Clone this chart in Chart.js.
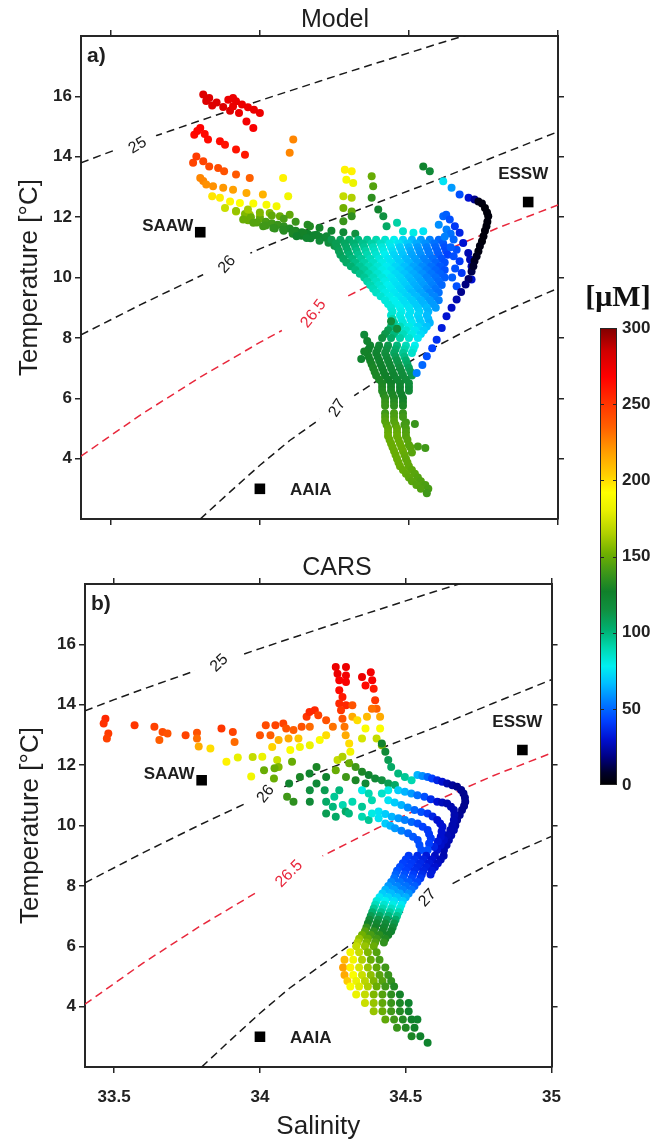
<!DOCTYPE html>
<html lang="en">
<head>
<meta charset="UTF-8" />
<title>Model vs CARS - T/S nitrate</title>
<script src="https://cdn.jsdelivr.net/npm/chart.js"></script>
<style>
  body { margin: 0; background: #fff; width: 654px; height: 1141px; position: relative; overflow: hidden; }
  canvas { position: absolute; }
</style>
</head>
<body>
<canvas id="chartA" width="575" height="540" style="left:0;top:0"></canvas>
<canvas id="chartB" width="575" height="596" style="left:0;top:545px"></canvas>
<canvas id="cbar" width="74" height="540" style="left:580px;top:270px"></canvas>

<script>
// ---- axes ----
const S_MIN = 33.4, S_MAX = 35;
const T_MIN = 2, T_MAX = 18;
const SAL_TICKS = [33.5, 34, 34.5, 35];
const TEMP_TICKS = [4, 6, 8, 10, 12, 14, 16];
const CBAR_TICKS = [0, 50, 100, 150, 200, 250, 300];

// ---- colormap (nitrate, uM) ----
const CMAP_VALUES = [0, 8, 18, 30, 42, 55, 67, 78, 90, 102, 115, 127, 140, 152, 165, 180, 192, 203, 218, 235, 252, 268, 285, 300];
const CMAP_COLORS = ['#000000', '#00002a', '#000080', '#0010d0', '#0040ff', '#0080ff', '#00c0ff', '#00f0f0',
  '#00d8b0', '#00b070', '#109040', '#10802a', '#409818', '#70b000', '#b0d000', '#e8f000', '#ffff00',
  '#ffd000', '#ffa000', '#ff6000', '#ff3000', '#ff0000', '#d00000', '#800000'];

// ---- isopycnals (salinity, temperature) ----
const ISO_NAMES = ['25', '26', '26.5', '27'];
const ISO_25 = [[33.4, 13.8], [33.5, 14.17], [33.6, 14.52], [33.7, 14.86], [33.8, 15.2], [33.9, 15.53], [34.0, 15.86],
  [34.1, 16.18], [34.2, 16.5], [34.3, 16.82], [34.4, 17.13], [34.5, 17.44], [34.6, 17.75], [34.7, 18.05]];
const ISO_26 = [[33.4, 8.1], [33.6, 9.1], [33.8, 10.05], [34.0, 10.95], [34.2, 11.75], [34.4, 12.5], [34.6, 13.25],
  [34.8, 14.05], [35.0, 14.83]];
const ISO_265 = [[33.4, 4.08], [33.6, 5.45], [33.8, 6.7], [34.0, 7.85], [34.2, 8.92], [34.4, 9.9], [34.6, 10.8],
  [34.8, 11.65], [35.0, 12.4]];
const ISO_27 = [[33.8, 2.0], [33.9, 2.9], [34.0, 3.78], [34.1, 4.6], [34.2, 5.3], [34.3, 5.98], [34.4, 6.62], [34.5, 7.2],
  [34.6, 7.76], [34.7, 8.28], [34.8, 8.78], [34.9, 9.22], [35.0, 9.64]];
const ISO_LINES = [ISO_25, ISO_26, ISO_265, ISO_27];
const ISO_COLORS = ['#1a1a1a', '#1a1a1a', '#e8283c', '#1a1a1a'];

// label spot on each isopycnal: [S, T]
const ISO_SPOT_A = [[33.59, 14.37], [33.89, 10.43], [34.18, 8.8], [34.26, 5.67]];
const ISO_SPOT_B = [[33.86, 15.38], [34.02, 11.04], [34.1, 8.4], [34.575, 7.6]];

// ---- water masses ----
const WM_NAMES = ['SAAW', 'ESSW', 'AAIA'];
const WM_S = [33.8, 34.9, 34.0];
const WM_T = [11.5, 12.5, 3.0];

// ---- Model: [S, T, NO3] ----
const MODEL_SURFACE = [
  [33.81, 16.06, 280], [33.83, 15.95, 280], [33.855, 15.8, 280], [33.877, 15.65, 280], [33.9, 15.52, 280], [33.82, 15.85, 280], [33.84, 15.7, 280],
  [33.894, 15.89, 275], [33.91, 15.95, 275], [33.92, 15.84, 275], [33.94, 15.73, 275], [33.96, 15.64, 275], [33.98, 15.56, 275], [34.0, 15.45, 275],
  [33.91, 15.67, 275], [33.93, 15.45, 275], [33.955, 15.17, 272], [33.978, 14.95, 270],
  [33.78, 14.73, 265], [33.80, 14.95, 268], [33.815, 14.75, 265], [33.826, 14.57, 265], [33.866, 14.51, 265], [33.883, 14.4, 262], [33.92, 14.24, 262], [33.95, 14.07, 260], [33.79, 14.85, 266],
  [33.776, 13.8, 245], [33.787, 14.01, 248], [33.81, 13.85, 245], [33.83, 13.68, 243], [33.86, 13.63, 242], [33.88, 13.52, 240], [33.92, 13.41, 238], [33.966, 13.3, 235],
  [33.8, 13.3, 225], [33.81, 13.2, 225], [33.82, 13.08, 222], [33.843, 13.02, 222], [33.877, 12.97, 220], [33.91, 12.91, 218], [33.955, 12.8, 215], [34.01, 12.75, 212],
  [33.84, 12.69, 198], [33.866, 12.64, 196], [33.9, 12.52, 194], [33.933, 12.47, 192], [33.978, 12.45, 190], [34.022, 12.41, 188], [34.056, 12.36, 186],
  [33.883, 12.3, 172], [33.92, 12.19, 168], [33.966, 12.08, 162], [34.0, 12.03, 158], [34.033, 12.14, 155], [34.067, 12.03, 150], [34.1, 12.08, 148],
  [34.112, 14.57, 225], [34.1, 14.13, 225], [34.078, 13.3, 195], [34.095, 12.69, 185],
  [34.285, 13.57, 195], [34.308, 13.52, 195], [34.29, 13.24, 188], [34.313, 13.13, 182], [34.28, 12.69, 170], [34.308, 12.64, 165],
  [34.28, 12.3, 152], [34.308, 12.19, 148], [34.28, 11.86, 138], [34.308, 12.03, 135],
  [34.375, 13.35, 150], [34.38, 13.02, 145], [34.375, 12.64, 135], [34.397, 12.25, 125], [34.414, 12.03, 115], [34.425, 11.7, 105],
  [34.46, 11.81, 92], [34.48, 11.53, 85], [34.515, 11.48, 80], [34.548, 11.53, 75],
  [34.548, 13.68, 125], [34.57, 13.52, 120]
];
const MODEL_THERMOCLINE = [
  [33.92, 12.2, 160], [33.95, 12.1, 155], [33.97, 12.0, 150], [34.0, 11.95, 148], [34.02, 11.85, 142], [34.04, 11.8, 140], [34.06, 11.75, 138],
  [34.08, 11.7, 135], [34.1, 11.62, 132], [34.12, 11.55, 130], [34.14, 11.5, 128], [34.16, 11.45, 126], [34.18, 11.4, 124], [34.2, 11.35, 122], [34.22, 11.32, 120],
  [33.96, 11.9, 150], [33.99, 11.82, 145], [34.02, 11.72, 140], [34.05, 11.62, 136], [34.08, 11.55, 133], [34.11, 11.45, 130], [34.14, 11.38, 127],
  [34.17, 11.3, 124], [34.2, 11.22, 120], [34.23, 11.15, 117], [34.25, 11.05, 114],
  [33.96, 12.25, 162], [34.0, 12.15, 155], [34.04, 12.05, 148], [34.08, 11.95, 142], [34.12, 11.85, 138], [34.16, 11.75, 133], [34.2, 11.65, 128],
  [34.24, 11.55, 124], [34.28, 11.5, 120], [34.32, 11.45, 115],
  [33.944, 11.92, 150], [33.978, 11.81, 145], [34.011, 11.7, 140], [34.045, 11.64, 136], [34.078, 11.59, 133], [34.11, 11.53, 130], [34.145, 11.48, 128],
  [34.168, 11.7, 132], [34.123, 11.37, 126], [34.157, 11.31, 124], [34.19, 11.42, 124], [34.224, 11.37, 120]
];
const MODEL_CORE = [
  [34.24, 11.25, 112], [34.27, 11.25, 108], [34.30, 11.25, 104], [34.33, 11.25, 100], [34.36, 11.25, 95], [34.39, 11.25, 90], [34.42, 11.25, 84],
  [34.45, 11.25, 78], [34.48, 11.25, 72], [34.51, 11.25, 66], [34.54, 11.25, 60], [34.57, 11.25, 55], [34.60, 11.25, 50],
  [34.255, 11.125, 110], [34.285, 11.125, 106], [34.315, 11.125, 102], [34.345, 11.125, 97], [34.375, 11.125, 92], [34.405, 11.125, 86], [34.435, 11.125, 80],
  [34.465, 11.125, 75], [34.495, 11.125, 69], [34.525, 11.125, 63], [34.555, 11.125, 58], [34.585, 11.125, 52], [34.615, 11.125, 47],
  [34.26, 11.0, 110], [34.29, 11.0, 105], [34.32, 11.0, 100], [34.35, 11.0, 95], [34.38, 11.0, 88], [34.41, 11.0, 82], [34.44, 11.0, 76],
  [34.47, 11.0, 70], [34.50, 11.0, 65], [34.53, 11.0, 60], [34.56, 11.0, 55], [34.59, 11.0, 50], [34.62, 11.0, 45],
  [34.265, 10.875, 109], [34.295, 10.875, 104], [34.325, 10.875, 98], [34.355, 10.875, 92], [34.385, 10.875, 86], [34.415, 10.875, 80], [34.445, 10.875, 74],
  [34.475, 10.875, 69], [34.505, 10.875, 63], [34.535, 10.875, 59], [34.565, 10.875, 54], [34.595, 10.875, 49], [34.625, 10.875, 44],
  [34.27, 10.75, 108], [34.30, 10.75, 102], [34.33, 10.75, 96], [34.36, 10.75, 90], [34.39, 10.75, 84], [34.42, 10.75, 78], [34.45, 10.75, 72],
  [34.48, 10.75, 68], [34.51, 10.75, 62], [34.54, 10.75, 58], [34.57, 10.75, 54], [34.60, 10.75, 48], [34.63, 10.75, 42],
  [34.28, 10.625, 106], [34.31, 10.625, 100], [34.34, 10.625, 94], [34.37, 10.625, 88], [34.40, 10.625, 82], [34.43, 10.625, 76], [34.46, 10.625, 71],
  [34.49, 10.625, 66], [34.52, 10.625, 61], [34.55, 10.625, 56], [34.58, 10.625, 52], [34.61, 10.625, 46],
  [34.29, 10.5, 105], [34.32, 10.5, 98], [34.35, 10.5, 92], [34.38, 10.5, 86], [34.41, 10.5, 80], [34.44, 10.5, 75], [34.47, 10.5, 70],
  [34.50, 10.5, 65], [34.53, 10.5, 60], [34.56, 10.5, 55], [34.59, 10.5, 50], [34.62, 10.5, 45],
  [34.305, 10.375, 102], [34.335, 10.375, 95], [34.365, 10.375, 89], [34.395, 10.375, 83], [34.425, 10.375, 77], [34.455, 10.375, 72], [34.485, 10.375, 67],
  [34.515, 10.375, 62], [34.545, 10.375, 57], [34.575, 10.375, 52], [34.605, 10.375, 47],
  [34.32, 10.25, 100], [34.35, 10.25, 94], [34.38, 10.25, 86], [34.41, 10.25, 80], [34.44, 10.25, 75], [34.47, 10.25, 70], [34.50, 10.25, 65],
  [34.53, 10.25, 60], [34.56, 10.25, 55], [34.59, 10.25, 50], [34.62, 10.25, 45],
  [34.335, 10.125, 97], [34.365, 10.125, 91], [34.395, 10.125, 84], [34.425, 10.125, 78], [34.455, 10.125, 73], [34.485, 10.125, 68], [34.515, 10.125, 63],
  [34.545, 10.125, 58], [34.575, 10.125, 53], [34.605, 10.125, 49],
  [34.35, 10.0, 95], [34.38, 10.0, 88], [34.41, 10.0, 82], [34.44, 10.0, 76], [34.47, 10.0, 72], [34.50, 10.0, 66], [34.53, 10.0, 62],
  [34.56, 10.0, 56], [34.59, 10.0, 52], [34.62, 10.0, 48],
  [34.36, 9.875, 92], [34.39, 9.875, 86], [34.42, 9.875, 80], [34.45, 9.875, 75], [34.48, 9.875, 71], [34.51, 9.875, 65], [34.54, 9.875, 61], [34.57, 9.875, 56], [34.60, 9.875, 51],
  [34.37, 9.75, 90], [34.40, 9.75, 84], [34.43, 9.75, 78], [34.46, 9.75, 74], [34.49, 9.75, 70], [34.52, 9.75, 64], [34.55, 9.75, 60], [34.58, 9.75, 55], [34.61, 9.75, 50],
  [34.38, 9.625, 88], [34.41, 9.625, 82], [34.44, 9.625, 77], [34.47, 9.625, 73], [34.50, 9.625, 68], [34.53, 9.625, 63], [34.56, 9.625, 58], [34.59, 9.625, 53],
  [34.39, 9.5, 86], [34.42, 9.5, 80], [34.45, 9.5, 76], [34.48, 9.5, 72], [34.51, 9.5, 66], [34.54, 9.5, 62], [34.57, 9.5, 56], [34.60, 9.5, 52],
  [34.405, 9.375, 84], [34.435, 9.375, 79], [34.465, 9.375, 75], [34.495, 9.375, 71], [34.525, 9.375, 66], [34.555, 9.375, 61], [34.585, 9.375, 56],
  [34.42, 9.25, 82], [34.45, 9.25, 78], [34.48, 9.25, 74], [34.51, 9.25, 70], [34.54, 9.25, 65], [34.57, 9.25, 60], [34.60, 9.25, 55],
  [34.43, 9.125, 82], [34.46, 9.125, 78], [34.49, 9.125, 74], [34.52, 9.125, 70], [34.55, 9.125, 65], [34.58, 9.125, 60],
  [34.44, 9.0, 82], [34.47, 9.0, 78], [34.50, 9.0, 75], [34.53, 9.0, 70], [34.56, 9.0, 66], [34.59, 9.0, 60],
  [34.445, 8.875, 83], [34.475, 8.875, 79], [34.505, 8.875, 75], [34.535, 8.875, 71], [34.565, 8.875, 65],
  [34.44, 8.75, 84], [34.47, 8.75, 80], [34.50, 8.75, 75], [34.53, 8.75, 72], [34.56, 8.75, 66],
  [34.445, 8.625, 90], [34.475, 8.625, 81], [34.505, 8.625, 75], [34.535, 8.625, 71], [34.565, 8.625, 66],
  [34.45, 8.5, 95], [34.48, 8.5, 82], [34.51, 8.5, 76], [34.54, 8.5, 70], [34.57, 8.5, 65],
  [34.44, 8.375, 102], [34.47, 8.375, 88], [34.50, 8.375, 80], [34.53, 8.375, 73], [34.56, 8.375, 68],
  [34.43, 8.25, 110], [34.46, 8.25, 95], [34.49, 8.25, 84], [34.52, 8.25, 76], [34.55, 8.25, 70],
  [34.42, 8.125, 112], [34.45, 8.125, 100], [34.48, 8.125, 88], [34.51, 8.125, 80], [34.54, 8.125, 73],
  [34.41, 8.0, 115], [34.44, 8.0, 105], [34.47, 8.0, 92], [34.50, 8.0, 84], [34.53, 8.0, 76]
];
const MODEL_DEEP = [
  [34.37, 7.75, 125], [34.40, 7.75, 120], [34.43, 7.75, 112], [34.46, 7.75, 100], [34.49, 7.75, 88], [34.52, 7.75, 78],
  [34.365, 7.625, 126], [34.395, 7.625, 122], [34.425, 7.625, 114], [34.455, 7.625, 103], [34.485, 7.625, 91], [34.515, 7.625, 81],
  [34.36, 7.5, 128], [34.39, 7.5, 124], [34.42, 7.5, 116], [34.45, 7.5, 106], [34.48, 7.5, 95], [34.51, 7.5, 85],
  [34.365, 7.375, 128], [34.395, 7.375, 125], [34.425, 7.375, 118], [34.455, 7.375, 109], [34.485, 7.375, 98],
  [34.37, 7.25, 128], [34.40, 7.25, 125], [34.43, 7.25, 120], [34.46, 7.25, 112], [34.49, 7.25, 102],
  [34.375, 7.125, 129], [34.405, 7.125, 126], [34.435, 7.125, 121], [34.465, 7.125, 113], [34.495, 7.125, 105],
  [34.38, 7.0, 130], [34.41, 7.0, 126], [34.44, 7.0, 122], [34.47, 7.0, 115], [34.50, 7.0, 108],
  [34.385, 6.875, 130], [34.415, 6.875, 127], [34.445, 6.875, 122], [34.475, 6.875, 117], [34.505, 6.875, 110],
  [34.39, 6.75, 130], [34.42, 6.75, 127], [34.45, 6.75, 123], [34.48, 6.75, 118], [34.51, 6.75, 112],
  [34.40, 6.625, 130], [34.43, 6.625, 127], [34.46, 6.625, 122], [34.49, 6.625, 118],
  [34.41, 6.5, 130], [34.44, 6.5, 127], [34.47, 6.5, 122], [34.50, 6.5, 118],
  [34.41, 6.375, 131], [34.44, 6.375, 128], [34.47, 6.375, 124], [34.50, 6.375, 119],
  [34.41, 6.25, 132], [34.44, 6.25, 129], [34.47, 6.25, 125], [34.50, 6.25, 120],
  [34.415, 6.125, 133], [34.445, 6.125, 130], [34.475, 6.125, 126],
  [34.42, 6.0, 135], [34.45, 6.0, 131], [34.48, 6.0, 127],
  [34.42, 5.875, 137], [34.45, 5.875, 133], [34.48, 5.875, 128],
  [34.42, 5.75, 138], [34.45, 5.75, 135], [34.48, 5.75, 130],
  [34.35, 8.1, 120], [34.36, 7.9, 125], [34.34, 7.3, 125], [34.35, 7.55, 128], [34.44, 8.55, 118], [34.46, 8.3, 118],
  [34.42, 5.5, 140], [34.45, 5.5, 142], [34.48, 5.5, 138],
  [34.42, 5.375, 143], [34.45, 5.375, 143], [34.48, 5.375, 140],
  [34.42, 5.25, 145], [34.45, 5.25, 145], [34.49, 5.2, 140], [34.52, 5.15, 138],
  [34.425, 5.125, 146], [34.455, 5.125, 146], [34.485, 5.125, 141],
  [34.43, 5.0, 148], [34.46, 5.0, 148], [34.49, 5.0, 142],
  [34.43, 4.875, 149], [34.46, 4.875, 149], [34.49, 4.875, 144],
  [34.43, 4.75, 150], [34.46, 4.75, 150], [34.49, 4.75, 145],
  [34.435, 4.625, 150], [34.465, 4.625, 150], [34.495, 4.625, 146],
  [34.44, 4.5, 150], [34.47, 4.5, 150], [34.50, 4.45, 146], [34.53, 4.4, 142], [34.555, 4.35, 140],
  [34.445, 4.375, 150], [34.475, 4.375, 150], [34.505, 4.375, 146],
  [34.45, 4.25, 150], [34.48, 4.25, 150], [34.51, 4.2, 146],
  [34.455, 4.125, 150], [34.485, 4.125, 149],
  [34.46, 4.0, 150], [34.49, 4.0, 148],
  [34.465, 3.875, 150], [34.495, 3.875, 148],
  [34.47, 3.75, 150], [34.50, 3.75, 148],
  [34.48, 3.625, 149], [34.51, 3.625, 147],
  [34.49, 3.5, 148], [34.52, 3.5, 146],
  [34.50, 3.375, 147], [34.53, 3.375, 145],
  [34.51, 3.25, 146], [34.54, 3.25, 144],
  [34.525, 3.125, 145], [34.555, 3.125, 143],
  [34.54, 3.0, 144], [34.565, 3.0, 142],
  [34.56, 2.85, 140]
];
const MODEL_EAST = [
  [34.615, 13.19, 75], [34.643, 12.97, 60], [34.67, 12.75, 45], [34.7, 12.64, 30], [34.72, 12.58, 20],
  [34.615, 12.03, 50], [34.625, 12.08, 48], [34.637, 11.92, 45], [34.654, 11.7, 40], [34.67, 11.48, 35], [34.682, 11.14, 30],
  [34.699, 10.81, 25], [34.705, 10.6, 25], [34.71, 10.37, 25], [34.71, 9.93, 30],
  [34.626, 11.59, 55], [34.64, 11.45, 52], [34.65, 11.26, 50], [34.66, 10.92, 45], [34.67, 10.54, 40], [34.677, 10.15, 40], [34.66, 9.71, 45],
  [34.6, 11.75, 58], [34.62, 11.35, 55], [34.64, 11.0, 48], [34.65, 10.7, 45], [34.655, 10.3, 45], [34.645, 10.0, 48],
  [34.71, 10.2, 12], [34.7, 9.95, 15], [34.69, 9.77, 18], [34.675, 9.52, 20], [34.66, 9.27, 25], [34.643, 9.0, 28], [34.626, 8.72, 30],
  [34.61, 8.33, 33], [34.593, 7.94, 38], [34.578, 7.66, 42], [34.56, 7.39, 45], [34.545, 7.1, 50], [34.526, 6.84, 55],
  [34.733, 12.52, 5], [34.745, 12.45, 3], [34.755, 12.3, 2], [34.762, 12.15, 2], [34.766, 12.03, 2], [34.763, 11.85, 2], [34.76, 11.7, 2],
  [34.755, 11.55, 2], [34.75, 11.37, 2], [34.745, 11.2, 2], [34.738, 11.04, 3], [34.733, 10.87, 3], [34.727, 10.7, 5], [34.72, 10.55, 6], [34.716, 10.37, 8]
];

// ---- CARS: [S, T, NO3] ----
const CARS_SURFACE = [
  [33.47, 13.54, 255], [33.464, 13.38, 252], [33.48, 13.05, 248], [33.475, 12.88, 246],
  [33.57, 13.32, 250], [33.638, 13.27, 246], [33.666, 13.1, 242], [33.655, 12.83, 236], [33.683, 13.05, 240],
  [33.745, 12.99, 245], [33.784, 13.07, 240], [33.784, 12.88, 232], [33.79, 12.62, 215], [33.83, 12.55, 200],
  [33.868, 13.21, 250], [33.907, 13.1, 245], [33.913, 12.77, 232], [33.885, 12.11, 195], [33.924, 12.25, 180],
  [33.97, 11.62, 185], [33.975, 12.27, 170], [34.0, 12.99, 240], [34.02, 13.32, 242], [34.036, 12.99, 236],
  [34.053, 13.32, 245], [34.08, 13.38, 246], [34.09, 13.21, 240], [34.115, 13.16, 236], [34.143, 13.27, 240],
  [34.16, 13.6, 250], [34.17, 13.76, 255], [34.188, 13.82, 255], [34.2, 13.65, 246], [34.227, 13.49, 240],
  [34.042, 12.6, 202], [34.064, 12.83, 212], [34.098, 12.88, 215], [34.132, 12.88, 206], [34.171, 13.27, 232],
  [34.008, 12.28, 182], [34.059, 12.17, 172], [34.104, 12.5, 190], [34.137, 12.6, 186], [34.171, 12.66, 182],
  [34.205, 12.83, 190], [34.227, 12.99, 200], [34.25, 13.27, 230]
];
const CARS_COLUMN = [
  [34.26, 15.25, 275], [34.266, 15.03, 275], [34.272, 14.81, 270], [34.295, 15.25, 275], [34.295, 14.97, 272], [34.295, 14.75, 270],
  [34.272, 14.48, 265], [34.283, 14.26, 260], [34.272, 14.04, 255], [34.295, 13.98, 255], [34.278, 13.82, 250], [34.283, 13.54, 240],
  [34.29, 13.27, 230], [34.294, 12.99, 215], [34.306, 12.72, 200], [34.31, 12.44, 185],
  [34.35, 14.92, 275], [34.38, 15.08, 272], [34.385, 14.81, 270], [34.362, 14.64, 265], [34.39, 14.53, 260], [34.395, 14.15, 250],
  [34.4, 13.87, 235], [34.412, 13.6, 215], [34.412, 13.21, 190], [34.4, 12.88, 170], [34.418, 12.66, 155],
  [34.317, 13.98, 240], [34.317, 13.6, 215], [34.334, 13.49, 200], [34.367, 13.6, 210], [34.362, 13.21, 190], [34.35, 12.88, 175], [34.384, 13.87, 230]
];
const CARS_MID = [
  [34.266, 12.17, 170], [34.283, 12.28, 165], [34.306, 12.06, 150], [34.328, 11.94, 140], [34.35, 11.78, 130], [34.373, 11.67, 125],
  [34.395, 11.56, 120], [34.418, 11.5, 115], [34.44, 11.39, 110], [34.463, 11.34, 105], [34.26, 11.83, 150], [34.295, 11.61, 140],
  [34.328, 11.5, 130], [34.362, 11.39, 120],
  [34.43, 12.44, 120], [34.44, 12.17, 110], [34.45, 11.94, 105], [34.474, 11.72, 100], [34.497, 11.61, 95], [34.52, 11.5, 90], [34.418, 12.72, 125],
  [34.014, 11.83, 150], [34.048, 11.56, 150], [34.064, 11.94, 155], [34.11, 12.11, 150], [34.1, 11.39, 125], [34.137, 11.61, 130],
  [34.17, 11.72, 125], [34.194, 11.94, 130], [34.093, 10.95, 140], [34.115, 10.79, 135], [34.171, 10.79, 120], [34.171, 11.17, 115],
  [34.194, 11.39, 120], [34.227, 11.61, 125], [34.222, 11.17, 110], [34.227, 10.79, 105], [34.272, 11.17, 100], [34.255, 10.95, 95],
  [34.284, 10.68, 90], [34.294, 10.46, 105], [34.317, 10.79, 90], [34.35, 11.17, 80],
  [34.44, 11.17, 80], [34.384, 10.84, 90], [34.35, 10.62, 95], [34.373, 11.06, 90], [34.418, 11.06, 85],
  [34.227, 10.4, 110], [34.26, 10.29, 105], [34.305, 10.4, 100], [34.35, 10.29, 90], [34.373, 10.18, 95], [34.25, 10.62, 100],
  [34.05, 11.9, 150]
];
const CARS_BLUE = [
  [34.54, 11.67, 65], [34.557, 11.64, 58], [34.575, 11.61, 50], [34.59, 11.56, 42], [34.608, 11.5, 35], [34.625, 11.45, 30], [34.642, 11.39, 25],
  [34.66, 11.33, 22], [34.676, 11.28, 20], [34.69, 11.18, 20], [34.698, 11.06, 20], [34.703, 10.92, 20], [34.704, 10.79, 20], [34.7, 10.65, 20],
  [34.693, 10.51, 20], [34.685, 10.35, 21], [34.676, 10.18, 22], [34.67, 10.0, 23], [34.665, 9.85, 25], [34.656, 9.68, 25], [34.648, 9.52, 25],
  [34.64, 9.35, 25], [34.631, 9.19, 25],
  [34.474, 11.17, 70], [34.497, 11.12, 65], [34.519, 11.06, 60], [34.54, 11.0, 52], [34.564, 10.95, 45], [34.586, 10.87, 37], [34.608, 10.79, 30],
  [34.625, 10.76, 27], [34.642, 10.73, 25], [34.655, 10.62, 25], [34.665, 10.51, 25], [34.667, 10.35, 25], [34.665, 10.18, 25], [34.66, 10.0, 25],
  [34.653, 9.85, 25], [34.642, 9.68, 26], [34.631, 9.52, 28], [34.62, 9.35, 29], [34.608, 9.19, 30],
  [34.44, 10.84, 75], [34.462, 10.76, 70], [34.485, 10.68, 65], [34.507, 10.6, 58], [34.53, 10.51, 50], [34.553, 10.45, 45], [34.575, 10.4, 40],
  [34.592, 10.3, 35], [34.608, 10.18, 30], [34.618, 10.07, 30], [34.626, 9.96, 30], [34.623, 9.8, 30], [34.62, 9.63, 30], [34.61, 9.47, 32], [34.597, 9.3, 35],
  [34.407, 10.46, 75], [34.43, 10.38, 70], [34.452, 10.29, 65], [34.475, 10.24, 60], [34.497, 10.18, 55], [34.52, 10.12, 50], [34.541, 10.07, 45],
  [34.558, 9.96, 42], [34.575, 9.85, 40], [34.58, 9.72, 40], [34.586, 9.58, 40], [34.58, 9.4, 42], [34.575, 9.19, 45],
  [34.384, 10.4, 80], [34.407, 10.24, 75], [34.43, 10.07, 70], [34.447, 9.99, 65], [34.463, 9.91, 60], [34.485, 9.83, 55], [34.508, 9.74, 50],
  [34.525, 9.63, 47], [34.541, 9.52, 45], [34.547, 9.35, 45], [34.553, 9.19, 45]
];
const CARS_DEEP = [
  [34.51, 9.0, 40], [34.54, 9.0, 36], [34.57, 9.0, 32], [34.60, 9.0, 28], [34.63, 9.0, 25],
  [34.50, 8.875, 41], [34.53, 8.875, 38], [34.56, 8.875, 34], [34.59, 8.875, 30], [34.62, 8.875, 26],
  [34.49, 8.75, 42], [34.52, 8.75, 40], [34.55, 8.75, 36], [34.58, 8.75, 32], [34.61, 8.75, 28],
  [34.48, 8.625, 44], [34.51, 8.625, 41], [34.54, 8.625, 37], [34.57, 8.625, 34], [34.60, 8.625, 30],
  [34.47, 8.5, 46], [34.50, 8.5, 42], [34.53, 8.5, 38], [34.56, 8.5, 35], [34.59, 8.5, 32],
  [34.465, 8.375, 49], [34.495, 8.375, 45], [34.525, 8.375, 41], [34.555, 8.375, 37], [34.585, 8.375, 33],
  [34.46, 8.25, 52], [34.49, 8.25, 48], [34.52, 8.25, 44], [34.55, 8.25, 40],
  [34.45, 8.125, 56], [34.48, 8.125, 52], [34.51, 8.125, 48], [34.54, 8.125, 44],
  [34.44, 8.0, 60], [34.47, 8.0, 56], [34.50, 8.0, 52], [34.53, 8.0, 48],
  [34.43, 7.875, 65], [34.46, 7.875, 61], [34.49, 7.875, 55], [34.52, 7.875, 52],
  [34.42, 7.75, 70], [34.45, 7.75, 66], [34.48, 7.75, 62], [34.51, 7.75, 58],
  [34.41, 7.625, 76], [34.44, 7.625, 72], [34.47, 7.625, 68], [34.50, 7.625, 64],
  [34.40, 7.5, 82], [34.43, 7.5, 78], [34.46, 7.5, 74], [34.49, 7.5, 70],
  [34.395, 7.375, 88], [34.425, 7.375, 84], [34.455, 7.375, 80], [34.485, 7.375, 76],
  [34.39, 7.25, 95], [34.42, 7.25, 90], [34.45, 7.25, 86], [34.48, 7.25, 82],
  [34.385, 7.125, 102], [34.415, 7.125, 97], [34.445, 7.125, 93], [34.475, 7.125, 89],
  [34.38, 7.0, 110], [34.41, 7.0, 105], [34.44, 7.0, 100], [34.47, 7.0, 96],
  [34.375, 6.875, 118], [34.405, 6.875, 113], [34.435, 6.875, 109], [34.465, 6.875, 104],
  [34.37, 6.75, 128], [34.40, 6.75, 122], [34.43, 6.75, 118], [34.46, 6.75, 112],
  [34.365, 6.625, 137], [34.395, 6.625, 128], [34.425, 6.625, 123], [34.455, 6.625, 118],
  [34.36, 6.5, 145], [34.39, 6.5, 135], [34.42, 6.5, 128], [34.45, 6.5, 124],
  [34.35, 6.375, 152], [34.38, 6.375, 142], [34.41, 6.375, 134], [34.44, 6.375, 128],
  [34.34, 6.25, 160], [34.37, 6.25, 150], [34.40, 6.25, 140], [34.43, 6.25, 132],
  [34.335, 6.125, 165], [34.365, 6.125, 155], [34.395, 6.125, 145], [34.425, 6.125, 136],
  [34.33, 6.0, 170], [34.36, 6.0, 160], [34.39, 6.0, 150],
  [34.31, 5.8, 185], [34.34, 5.8, 170], [34.37, 5.8, 155], [34.40, 5.8, 145],
  [34.29, 5.55, 210], [34.32, 5.55, 185], [34.35, 5.55, 165], [34.38, 5.55, 150], [34.41, 5.55, 142],
  [34.285, 5.3, 218], [34.31, 5.3, 195], [34.34, 5.3, 175], [34.37, 5.3, 160], [34.40, 5.3, 148], [34.43, 5.3, 140],
  [34.29, 5.05, 215], [34.32, 5.05, 190], [34.35, 5.05, 172], [34.38, 5.05, 158], [34.41, 5.05, 146], [34.44, 5.05, 138],
  [34.30, 4.85, 205], [34.33, 4.85, 182], [34.36, 4.85, 168], [34.39, 4.85, 155], [34.42, 4.85, 145], [34.45, 4.85, 136],
  [34.31, 4.67, 190], [34.34, 4.67, 178], [34.37, 4.67, 165], [34.40, 4.67, 150], [34.43, 4.67, 140], [34.46, 4.67, 132],
  [34.33, 4.4, 182], [34.36, 4.4, 170], [34.39, 4.4, 155], [34.42, 4.4, 145], [34.45, 4.4, 135], [34.48, 4.4, 128],
  [34.36, 4.12, 172], [34.39, 4.12, 160], [34.42, 4.12, 148], [34.45, 4.12, 138], [34.48, 4.12, 130], [34.51, 4.12, 125],
  [34.39, 3.85, 160], [34.42, 3.85, 150], [34.45, 3.85, 140], [34.48, 3.85, 132], [34.51, 3.85, 126],
  [34.43, 3.57, 148], [34.46, 3.57, 140], [34.49, 3.57, 132], [34.52, 3.57, 127], [34.54, 3.57, 125],
  [34.47, 3.3, 138], [34.50, 3.3, 132], [34.53, 3.3, 127],
  [34.52, 3.02, 130], [34.55, 3.02, 126],
  [34.575, 2.8, 125]
];

const FONT = '"Liberation Sans", Arial, Helvetica, sans-serif';
Chart.defaults.font.family = FONT;
Chart.defaults.color = '#1e1e1e';
const INK = '#262626';

function hexRgb(h) {
  return [parseInt(h.slice(1, 3), 16), parseInt(h.slice(3, 5), 16), parseInt(h.slice(5, 7), 16)];
}
function no3Color(v) {
  for (let i = 1; i < CMAP_VALUES.length; i++) {
    if (v <= CMAP_VALUES[i]) {
      const f = (v - CMAP_VALUES[i - 1]) / (CMAP_VALUES[i] - CMAP_VALUES[i - 1]);
      const a = hexRgb(CMAP_COLORS[i - 1]), b = hexRgb(CMAP_COLORS[i]);
      return 'rgb(' + a.map((c, k) => Math.round(c + (b[k] - c) * f)).join(',') + ')';
    }
  }
  return CMAP_COLORS[CMAP_COLORS.length - 1];
}

// line gap + rotated label for each isopycnal
const isoLabels = {
  id: 'isoLabels',
  beforeDatasetDraw(chart, args) {
    const ds = chart.data.datasets[args.index];
    if (!ds.gap) return;
    const { ctx, chartArea: a, scales: { x, y } } = chart;
    const cx = x.getPixelForValue(ds.gap.s), cy = y.getPixelForValue(ds.gap.t);
    ctx.save();
    ctx.beginPath();
    ctx.rect(a.left, a.top, a.width, a.height);
    ctx.moveTo(cx + ds.gap.r, cy);
    ctx.arc(cx, cy, ds.gap.r, 0, Math.PI * 2);
    ctx.clip('evenodd');
  },
  afterDatasetDraw(chart, args) {
    const ds = chart.data.datasets[args.index];
    if (!ds.gap) return;
    const { ctx, scales: { x, y } } = chart;
    ctx.restore();
    ctx.save();
    ctx.translate(x.getPixelForValue(ds.gap.s), y.getPixelForValue(ds.gap.t));
    ctx.rotate(ds.gap.a * Math.PI / 180);
    ctx.font = '16px ' + FONT;
    ctx.fillStyle = ds.borderColor;
    ctx.textAlign = 'center';
    ctx.textBaseline = 'middle';
    ctx.fillText(ds.gap.text, 0, 0);
    ctx.restore();
  }
};

// titles, panel tag, axis titles, water mass names
const decor = {
  id: 'decor',
  afterDraw(chart, args, o) {
    const { ctx, chartArea: a, scales: { x, y } } = chart;
    ctx.save();
    ctx.fillStyle = '#1e1e1e';
    ctx.textBaseline = 'middle';
    ctx.textAlign = 'center';
    ctx.font = '25px ' + FONT;
    ctx.fillText(o.title, o.titleX, o.titleY);
    ctx.font = 'bold 21px ' + FONT;
    ctx.textAlign = 'left';
    ctx.fillText(o.tag, a.left + 6, a.top + 20);
    ctx.save();
    ctx.translate(o.yTitleX, (a.top + a.bottom) / 2);
    ctx.rotate(-Math.PI / 2);
    ctx.textAlign = 'center';
    ctx.font = '26px ' + FONT;
    ctx.fillText('Temperature [°C]', 0, 0);
    ctx.restore();
    if (o.xTitle) {
      ctx.textAlign = 'center';
      ctx.font = '26px ' + FONT;
      ctx.fillText(o.xTitle, (a.left + a.right) / 2, o.xTitleY);
    }
    ctx.font = 'bold 17px ' + FONT;
    WM_NAMES.forEach((name, i) => {
      const px = x.getPixelForValue(WM_S[i]), py = y.getPixelForValue(WM_T[i]);
      if (i === 0) { ctx.textAlign = 'right'; ctx.fillText(name, px - 7, py - 6); }
      if (i === 1) { ctx.textAlign = 'center'; ctx.fillText(name, px - 5, py - 28); }
      if (i === 2) { ctx.textAlign = 'left'; ctx.fillText(name, px + 30, py + 1); }
    });
    ctx.restore();
  }
};

function toXY(arr) { return arr.map(p => ({ x: p[0], y: p[1] })); }

function panelDatasets(points, spots, angles, radii) {
  const iso = ISO_LINES.map((line, i) => ({
    data: toXY(line),
    showLine: true,
    pointRadius: 0,
    borderColor: ISO_COLORS[i],
    borderWidth: 1.5,
    borderDash: [8, 5],
    fill: false,
    order: 10,
    gap: { s: spots[i][0], t: spots[i][1], a: angles[i], r: radii[i], text: ISO_NAMES[i] }
  }));
  return iso.concat([
    {
      data: toXY(points),
      pointRadius: 4,
      pointBorderWidth: 0,
      pointBackgroundColor: points.map(p => no3Color(p[2])),
      order: 2
    },
    {
      data: WM_S.map((s, i) => ({ x: s, y: WM_T[i] })),
      pointStyle: 'rect',
      pointRadius: 7.5,
      pointBorderWidth: 0,
      pointBackgroundColor: '#000',
      order: 1
    }
  ]);
}

function panelOptions(cfg) {
  const tickFont = { size: 17, weight: 'bold' };
  const grid = { drawOnChartArea: false, drawTicks: true, tickLength: 6, color: INK, lineWidth: 1.5 };
  const border = { display: true, color: INK, width: 2 };
  const salTicks = s => { s.ticks = SAL_TICKS.map(v => ({ value: v })); };
  const tempTicks = s => { s.ticks = TEMP_TICKS.map(v => ({ value: v })); };
  return {
    responsive: false,
    animation: false,
    events: [],
    layout: { padding: 0, autoPadding: false },
    plugins: { legend: { display: false }, tooltip: { enabled: false }, decor: cfg },
    scales: {
      x: {
        type: 'linear', position: 'bottom', min: S_MIN, max: S_MAX, afterBuildTicks: salTicks,
        ticks: { display: cfg.xLabels, font: tickFont, color: '#222', padding: 14, maxRotation: 0, callback: v => String(v) },
        grid, border, afterFit: s => { s.height = cfg.bottom; }
      },
      xTop: {
        type: 'linear', axis: 'x', position: 'top', min: S_MIN, max: S_MAX, afterBuildTicks: salTicks,
        ticks: { display: false }, grid, border, afterFit: s => { s.height = cfg.top; }
      },
      y: {
        type: 'linear', position: 'left', min: T_MIN, max: T_MAX, afterBuildTicks: tempTicks,
        ticks: { font: tickFont, color: '#222', padding: 3, callback: v => String(v) },
        grid, border, afterFit: s => { s.width = cfg.left; }
      },
      yRight: {
        type: 'linear', axis: 'y', position: 'right', min: T_MIN, max: T_MAX, afterBuildTicks: tempTicks,
        ticks: { display: false }, grid, border, afterFit: s => { s.width = cfg.right; }
      }
    }
  };
}

new Chart(document.getElementById('chartA'), {
  type: 'scatter',
  data: {
    datasets: panelDatasets(
      MODEL_SURFACE.concat(MODEL_THERMOCLINE, MODEL_CORE, MODEL_DEEP, MODEL_EAST),
      ISO_SPOT_A, [-31, -48, -52, -57], [21, 26, 36, 21])
  },
  options: panelOptions({
    title: 'Model', titleX: 335, titleY: 20, tag: 'a)', yTitleX: 30,
    xLabels: false, left: 81, right: 17, top: 36, bottom: 21
  }),
  plugins: [isoLabels, decor]
});

new Chart(document.getElementById('chartB'), {
  type: 'scatter',
  data: {
    datasets: panelDatasets(
      CARS_SURFACE.concat(CARS_COLUMN, CARS_MID, CARS_BLUE, CARS_DEEP),
      ISO_SPOT_B, [-43, -52, -45, -47], [26, 20, 38, 25])
  },
  options: panelOptions({
    title: 'CARS', titleX: 337, titleY: 23, tag: 'b)', yTitleX: 31,
    xLabels: true, xTitle: 'Salinity', xTitleY: 582,
    left: 85, right: 14, top: 39, bottom: 74
  }),
  plugins: [isoLabels, decor]
});

// ---- colour bar ----
const cbarDecor = {
  id: 'cbarDecor',
  afterDraw(chart) {
    const { ctx, chartArea: a, scales: { y } } = chart;
    ctx.save();
    ctx.strokeStyle = INK;
    ctx.lineWidth = 1;
    ctx.strokeRect(a.left + 0.5, a.top + 0.5, a.width - 1, a.height - 1);
    CBAR_TICKS.slice(1, -1).forEach(v => {
      const py = Math.round(y.getPixelForValue(v)) + 0.5;
      ctx.beginPath();
      ctx.moveTo(a.left, py); ctx.lineTo(a.left + 4, py);
      ctx.moveTo(a.right - 4, py); ctx.lineTo(a.right, py);
      ctx.stroke();
    });
    ctx.fillStyle = '#111';
    ctx.font = 'bold 30px "Liberation Serif", "Times New Roman", serif';
    ctx.textAlign = 'center';
    ctx.textBaseline = 'middle';
    ctx.fillText('[\u03bcM]', 38, 28);
    ctx.restore();
  }
};

new Chart(document.getElementById('cbar'), {
  type: 'bar',
  data: {
    labels: ['NO3'],
    datasets: [{
      data: [CBAR_TICKS[CBAR_TICKS.length - 1]],
      borderWidth: 0,
      barPercentage: 1,
      categoryPercentage: 1,
      backgroundColor: c => {
        const { ctx, chartArea, scales } = c.chart;
        if (!chartArea) return 'transparent';
        const y = scales.y;
        const g = ctx.createLinearGradient(0, y.getPixelForValue(0), 0, y.getPixelForValue(300));
        CMAP_VALUES.forEach((v, i) => g.addColorStop(v / 300, CMAP_COLORS[i]));
        return g;
      }
    }]
  },
  options: {
    responsive: false,
    animation: false,
    events: [],
    layout: { padding: { left: 20, top: 58, bottom: 25, right: 0 }, autoPadding: false },
    plugins: { legend: { display: false }, tooltip: { enabled: false } },
    scales: {
      x: { display: false },
      y: {
        position: 'right', min: 0, max: 300,
        afterBuildTicks: s => { s.ticks = CBAR_TICKS.map(v => ({ value: v })); },
        ticks: { font: { size: 17, weight: 'bold' }, color: '#222', padding: 5 },
        grid: { drawOnChartArea: false, drawTicks: false },
        border: { display: false },
        afterFit: s => { s.width = 37; }
      }
    }
  },
  plugins: [cbarDecor]
});
</script>
</body>
</html>
